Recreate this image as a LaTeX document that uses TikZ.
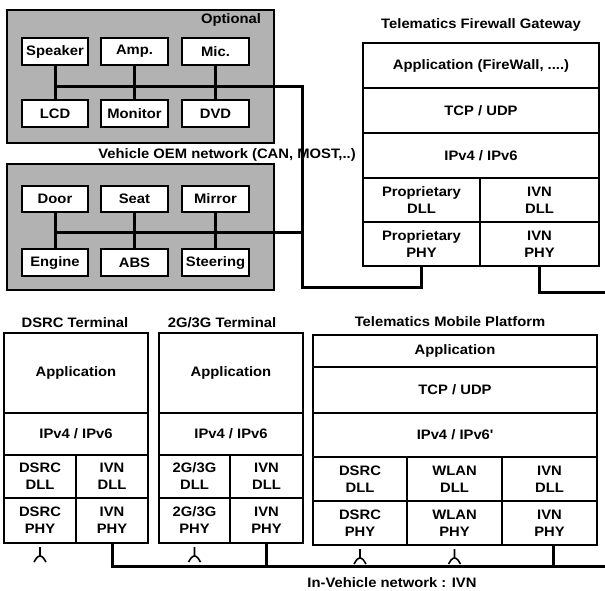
\documentclass[tikz,border=0pt]{standalone}
\usepackage{fontspec}
\setmainfont{Liberation Sans}[FakeStretch=1.08]
\begin{document}
\begin{tikzpicture}[x=1pt,y=-1pt,
  every node/.style={font=\fontsize{13.7}{17}\selectfont\bfseries},
  cellbox/.style={draw,line width=1.3pt,fill=white,inner sep=0pt,outer sep=0pt,align=center},
  shadebox/.style={draw,line width=1.8pt,fill=black!30,inner sep=0pt,outer sep=0pt},
  bus/.style={line width=3pt,line cap=rect},
  tie/.style={line width=3pt},
  antenna/.style={line width=1.6pt},
  title/.style={inner sep=1pt}]
\useasboundingbox (0,0) rectangle (605,591);

% box from corner (x1,y1) to corner (x2,y2)
\newcommand\stackcell[7][cellbox]{%
  \node[#1,minimum width={(#5-#3)*1pt},minimum height={(#6-#4)*1pt}]
    (#2) at ({(#3+#5)/2},{(#4+#6)/2}) {#7};}

% ---------- optional multimedia devices ----------
\stackcell[shadebox]{opt}{7}{10}{274}{143}{}
\node[title] (optlbl) at (231,20) {Optional};
\stackcell{spk}{22}{38}{88}{65}{Speaker}
\stackcell{amp}{101}{38}{168}{65}{Amp.}
\stackcell{mic}{182}{38}{249}{65}{Mic.}
\stackcell{lcd}{22}{100}{88}{127}{LCD}
\stackcell{mon}{101}{100}{168}{127}{Monitor}
\stackcell{dvd}{182}{100}{249}{127}{DVD}

% ---------- vehicle OEM devices ----------
\stackcell[shadebox]{oem}{7}{164}{274}{290}{}
\stackcell{door}{22}{186}{88}{212}{Door}
\stackcell{seat}{101}{186}{168}{212}{Seat}
\stackcell{mirr}{182}{186}{249}{212}{Mirror}
\stackcell{eng}{22}{249}{88}{276}{Engine}
\stackcell{abs}{101}{249}{168}{276}{ABS}
\stackcell{steer}{182}{249}{249}{276}{Steering}

% ---------- telematics firewall gateway ----------
\node[title] (gwt) at (481,25) {Telematics Firewall Gateway};
\stackcell{gwapp}{363}{43}{599}{88}{Application (FireWall, ....)}
\stackcell{gwtcp}{363}{88}{599}{133}{TCP / UDP}
\stackcell{gwip}{363}{133}{599}{178}{IPv4 / IPv6}
\stackcell{gwpd}{363}{178}{480}{222}{Proprietary\\DLL}
\stackcell{gwid}{480}{178}{599}{222}{IVN\\DLL}
\stackcell{gwpp}{363}{222}{480}{266}{Proprietary\\PHY}
\stackcell{gwipy}{480}{222}{599}{266}{IVN\\PHY}

% ---------- DSRC terminal ----------
\node[title] (dst) at (75,323) {DSRC Terminal};
\stackcell{dsapp}{4}{333}{148}{413}{Application}
\stackcell{dsip}{4}{413}{148}{455}{IPv4 / IPv6}
\stackcell{dsdd}{4}{455}{76}{498}{DSRC\\DLL}
\stackcell{dsid}{76}{455}{148}{498}{IVN\\DLL}
\stackcell{dsdp}{4}{498}{76}{543}{DSRC\\PHY}
\stackcell{dsipy}{76}{498}{148}{543}{IVN\\PHY}

% ---------- 2G/3G terminal ----------
\node[title] (gt) at (222,323) {2G/3G Terminal};
\stackcell{gapp}{159}{333}{303}{413}{Application}
\stackcell{gip}{159}{413}{303}{455}{IPv4 / IPv6}
\stackcell{ggd}{159}{455}{230}{498}{2G/3G\\DLL}
\stackcell{gid}{230}{455}{303}{498}{IVN\\DLL}
\stackcell{ggp}{159}{498}{230}{543}{2G/3G\\PHY}
\stackcell{gipy}{230}{498}{303}{543}{IVN\\PHY}

% ---------- telematics mobile platform ----------
\node[title] (tmt) at (450,322) {Telematics Mobile Platform};
\stackcell{tmapp}{313}{335}{597}{367}{Application}
\stackcell{tmtcp}{313}{367}{597}{413}{TCP / UDP}
\stackcell{tmip}{313}{413}{597}{457}{IPv4 / IPv6\textquotesingle}
\stackcell{tmdd}{313}{457}{407}{501}{DSRC\\DLL}
\stackcell{tmwd}{407}{457}{502}{501}{WLAN\\DLL}
\stackcell{tmid}{502}{457}{597}{501}{IVN\\DLL}
\stackcell{tmdp}{313}{501}{407}{545}{DSRC\\PHY}
\stackcell{tmwp}{407}{501}{502}{545}{WLAN\\PHY}
\stackcell{tmipy}{502}{501}{597}{545}{IVN\\PHY}

% ---------- bus junctions and open ends ----------
\coordinate (optbus) at (302,87);
\coordinate (oembus) at (302,232);
\coordinate (gwjoin) at (302,287);
\coordinate (gwout) at (605,292);
\coordinate (ivnout) at (605,566);

% optional devices bus
\draw[tie] (spk.south) -- (lcd.north);
\draw[tie] (amp.south) -- (mon.north);
\draw[tie] (mic.south) -- (dvd.north);
\draw[bus] (lcd.north |- optbus) -- (optbus) -- (gwjoin) -| (gwpp.south);

% OEM devices bus
\draw[tie] (door.south) -- (eng.north);
\draw[tie] (seat.south) -- (abs.north);
\draw[tie] (mirr.south) -- (steer.north);
\draw[bus] (eng.north |- oembus) -- (oembus);

% gateway to in-vehicle network
\draw[bus] (gwipy.south) |- (gwout);

% in-vehicle network bus
\draw[bus] (dsipy.south) |- (ivnout);
\draw[bus] (gipy.south) -- (gipy.south |- ivnout);
\draw[bus] ([xshift=4pt]tmipy.south) -- ([xshift=4pt]tmipy.south |- ivnout);

% antennas
\foreach \a in {dsdp,ggp,tmdp,tmwp}{
  \draw[antenna] ([yshift=-4pt]\a.south) -- ++(0,9) coordinate (\a-tip)
    .. controls +(-2,0) and +(1,-3) .. ++(-6,6);
  \draw[antenna] (\a-tip) .. controls +(2,0) and +(-1,-3) .. ++(6,6);
}

% network labels
\node[title] (oemlbl) at (227,155) {Vehicle OEM network (CAN, MOST,..)};
\node[title] (ivnlbl) at (392,583) {In-Vehicle network : IVN};
\end{tikzpicture}
\end{document}
